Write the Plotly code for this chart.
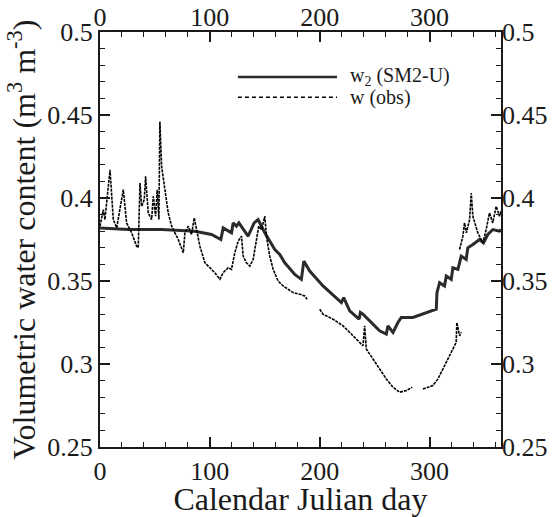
import plotly.graph_objects as go

# Model (SM2-U) series: Julian day and w2
model_day = [0, 25.8, 56.1, 86.4, 101.5, 110, 112.1, 119.7, 121.2, 124.2,
             126.4, 134.8, 140.3, 143.9, 147, 150, 159.1, 163.6, 168.2, 177.3,
             183.3, 185.5, 190.9, 203, 219.7, 221.8, 227.3, 235.8, 237, 239.4,
             254.5, 260.6, 262.1, 266.7, 271.2, 274.2, 284.8, 293.9, 306.1, 306.7,
             309.1, 313.6, 315.2, 319.7, 321.2, 325.8, 328.8, 333.3, 334.8, 339.4,
             345.5, 349.1, 353, 357.6, 363.6, 365]
model_w = [0.382, 0.381, 0.381, 0.380, 0.378, 0.375, 0.382, 0.379, 0.385, 0.383,
           0.385, 0.377, 0.385, 0.387, 0.383, 0.379, 0.369, 0.366, 0.361, 0.354,
           0.351, 0.362, 0.356, 0.347, 0.337, 0.340, 0.332, 0.327, 0.331, 0.330,
           0.320, 0.318, 0.323, 0.319, 0.325, 0.328, 0.328, 0.330, 0.333, 0.343,
           0.349, 0.347, 0.353, 0.351, 0.358, 0.357, 0.365, 0.363, 0.370, 0.372,
           0.375, 0.373, 0.378, 0.381, 0.380, 0.381]

# Observed series (None = data gap)
obs_day = [0, 3, 4.5, 7, 9.1, 12.1, 15.2, 21.2, 24.2, 28.8,
           33.3, 34.8, 36.4, 37.9, 40.3, 41.5, 43.9, 47, 48.5, 50.6,
           52.1, 53.6, 54.5, 56.1, 59.1, 62.1, 65.2, 68.2, 71.2, 75.8,
           77.3, 80.3, 83.3, 85.8, 87.9, 90.9, 95.5, 100, 104.5, 109.1,
           112.1, 116.7, 119.7, 122.7, 125.8, 128.8, 130.3, 133.3, 136.4, 139.4,
           142.4, 144.5, 147, 150, 151.5, 154.5, 157.6, 162.1, 166.7, 171.2,
           175.8, 181.8, 186.4, 188.5, None,
           200, 203, 212.1, 221.2, 230.3, 239.4, 240.9, 242.4, 248.5, 254.5,
           260.6, 266.7, 272.7, 278.8, 284.2, None,
           293.9, 303, 307.6, 312.1, 316.7, 321.2, 324.2, 324.8, 327.3, 328.8, None,
           327.3, 330.3, 331.8, 333.5, 336.4, 337.9, 339.4, 343.9, 348.5, 351.5,
           354.5, 357.5, 360.6, 363.6, 365]
obs_w = [0.383, 0.393, 0.387, 0.402, 0.417, 0.387, 0.382, 0.405, 0.385, 0.379,
         0.371, 0.370, 0.409, 0.395, 0.399, 0.413, 0.391, 0.387, 0.401, 0.389,
         0.405, 0.387, 0.446, 0.419, 0.405, 0.391, 0.383, 0.379, 0.375, 0.367,
         0.379, 0.383, 0.378, 0.388, 0.381, 0.371, 0.361, 0.358, 0.355, 0.351,
         0.355, 0.358, 0.357, 0.367, 0.374, 0.377, 0.365, 0.361, 0.359, 0.363,
         0.376, 0.383, 0.381, 0.389, 0.377, 0.365, 0.357, 0.350, 0.347, 0.345,
         0.343, 0.342, 0.341, 0.339, None,
         0.333, 0.330, 0.327, 0.323, 0.317, 0.311, 0.323, 0.309, 0.303, 0.297,
         0.291, 0.286, 0.283, 0.284, 0.286, None,
         0.285, 0.287, 0.291, 0.297, 0.303, 0.309, 0.313, 0.325, 0.317, 0.319, None,
         0.369, 0.377, 0.385, 0.379, 0.387, 0.403, 0.389, 0.379, 0.373, 0.381,
         0.391, 0.385, 0.395, 0.389, 0.392]

x_ticks = [0, 100, 200, 300]
y_ticks = [0.25, 0.3, 0.35, 0.4, 0.45, 0.5]
y_labels = ["0.25", "0.3", "0.35", "0.4", "0.45", "0.5"]

FONT = "Liberation Serif"
INK = "#1a1a1a"

fig = go.Figure()
fig.add_trace(go.Scatter(x=model_day, y=model_w, mode="lines", name="w2 (SM2-U)",
                         line=dict(color="#2b2b2b", width=3), showlegend=False))
fig.add_trace(go.Scatter(x=obs_day, y=obs_w, mode="lines", name="w (obs)",
                         line=dict(color="black", width=1.6, dash="3px,1px"),
                         connectgaps=False, showlegend=False))
# invisible trace to activate the mirrored top/right axes
fig.add_trace(go.Scatter(x=model_day, y=model_w, mode="lines", xaxis="x2", yaxis="y2",
                         line=dict(width=0), opacity=0, hoverinfo="skip", showlegend=False))

common_x = dict(range=[0, 365], tickvals=x_ticks, ticks="inside", ticklen=10, tickwidth=2,
                tickcolor=INK, showgrid=False, zeroline=False, automargin=False,
                tickfont=dict(family=FONT, size=26, color=INK),
                minor=dict(dtick=20, tick0=0, ticks="inside", ticklen=5, tickwidth=1.2,
                           tickcolor=INK, showgrid=False))
common_y = dict(range=[0.25, 0.5], tickvals=y_ticks, ticktext=y_labels, ticks="inside",
                ticklen=10, tickwidth=2, tickcolor=INK, showgrid=False, zeroline=False,
                automargin=False,
                tickfont=dict(family=FONT, size=26, color=INK),
                minor=dict(dtick=0.01, tick0=0.25, ticks="inside", ticklen=5, tickwidth=1.2,
                           tickcolor=INK, showgrid=False))

fig.update_layout(
    width=555, height=517,
    margin=dict(l=100, r=54, t=32, b=70),
    paper_bgcolor="white", plot_bgcolor="white",
    font=dict(family=FONT, color=INK),
    xaxis=dict(**common_x, showline=True, linewidth=2, linecolor=INK, mirror=True,
               title=dict(text="Calendar Julian day", font=dict(family=FONT, size=32, color=INK),
                          standoff=7)),
    yaxis=dict(**common_y, showline=True, linewidth=2, linecolor=INK, mirror=True,
               title=dict(text="Volumetric water content (m<sup>3</sup> m<sup>-3</sup>)",
                          font=dict(family=FONT, size=32, color=INK), standoff=2)),
    xaxis2=dict(**common_x, overlaying="x", side="top", showline=False),
    yaxis2=dict(**common_y, overlaying="y", side="right", showline=False),
)

# legend drawn as keys + labels
fig.add_shape(type="line", xref="paper", yref="paper", x0=0.344, x1=0.591, y0=0.8916, y1=0.8916,
              line=dict(color="#2b2b2b", width=2.5))
fig.add_shape(type="line", xref="paper", yref="paper", x0=0.344, x1=0.591, y0=0.843, y1=0.843,
              line=dict(color="black", width=1.5, dash="4px,3px"))
fig.add_annotation(xref="paper", yref="paper", x=0.618, y=0.8916, xanchor="left", yanchor="middle",
                   text="w<sub>2</sub> (SM2-U)", showarrow=False,
                   font=dict(family=FONT, size=20, color=INK))
fig.add_annotation(xref="paper", yref="paper", x=0.618, y=0.843, xanchor="left", yanchor="middle",
                   text="w (obs)", showarrow=False,
                   font=dict(family=FONT, size=20, color=INK))

# remove the default 8px page margin so the 555x517 figure fills the window exactly
fig.write_html("out.html", config={"displayModeBar": False},
               post_script="document.body.style.margin='0';")
